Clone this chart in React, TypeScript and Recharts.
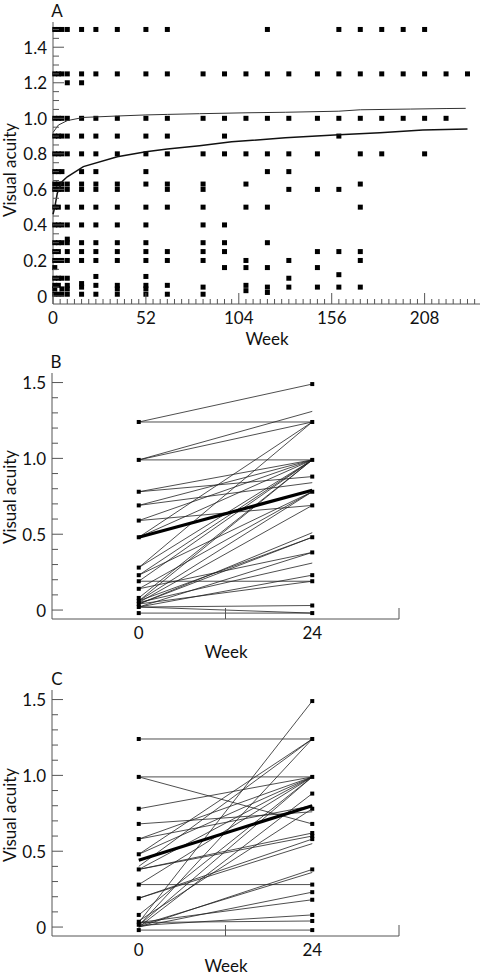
import React from "react";
import { ComposedChart, Scatter, XAxis, YAxis } from "recharts";

const FONT = "Lato, 'Open Sans', sans-serif";
const FS = 17;

// Panel A: visit weeks and the acuity values seen at each visit
const visitWeeks = [1, 3, 5, 8, 16, 24, 36, 52, 64, 84, 96, 108, 120, 132, 148, 160, 172, 184, 196, 208, 220, 232];
const visitValues: number[][] = [
  [1.5, 1.25, 1.0, 0.9, 0.8, 0.7, 0.63, 0.6, 0.5, 0.4, 0.3, 0.25, 0.2, 0.16, 0.1, 0.06, 0.04, 0.01],
  [1.5, 1.25, 1.0, 0.9, 0.8, 0.7, 0.63, 0.6, 0.5, 0.4, 0.3, 0.25, 0.2, 0.1, 0.06, 0.01],
  [1.5, 1.25, 1.0, 0.9, 0.8, 0.7, 0.63, 0.6, 0.4, 0.3, 0.2, 0.1, 0.04, 0.01],
  [1.5, 1.25, 1.2, 1.0, 0.9, 0.8, 0.63, 0.6, 0.5, 0.4, 0.32, 0.3, 0.25, 0.2, 0.1, 0.06, 0.04, 0.01],
  [1.5, 1.25, 1.2, 1.0, 0.9, 0.8, 0.7, 0.63, 0.6, 0.5, 0.4, 0.3, 0.25, 0.2, 0.07, 0.05, 0.01],
  [1.5, 1.25, 1.0, 0.9, 0.8, 0.7, 0.63, 0.6, 0.5, 0.4, 0.3, 0.25, 0.2, 0.11, 0.06, 0.01],
  [1.5, 1.25, 1.0, 0.9, 0.8, 0.63, 0.6, 0.5, 0.4, 0.3, 0.25, 0.2, 0.06, 0.04, 0.01],
  [1.5, 1.25, 1.0, 0.9, 0.8, 0.7, 0.63, 0.5, 0.4, 0.3, 0.25, 0.2, 0.11, 0.06, 0.04, 0.01],
  [1.5, 1.25, 1.0, 0.9, 0.8, 0.63, 0.6, 0.5, 0.25, 0.2, 0.06, 0.01],
  [1.25, 1.0, 0.8, 0.63, 0.6, 0.5, 0.4, 0.3, 0.25, 0.2, 0.05, 0.01],
  [1.25, 1.0, 0.9, 0.8, 0.4, 0.3, 0.25, 0.16],
  [1.25, 1.0, 0.8, 0.63, 0.5, 0.2, 0.16, 0.06, 0.03],
  [1.5, 1.25, 1.0, 0.8, 0.7, 0.5, 0.3, 0.16, 0.05, 0.02],
  [1.25, 1.0, 0.8, 0.7, 0.6, 0.2, 0.1, 0.05],
  [1.25, 1.0, 0.8, 0.6, 0.25, 0.16, 0.05],
  [1.5, 1.25, 1.0, 0.9, 0.6, 0.25, 0.12, 0.05],
  [1.5, 1.25, 1.0, 0.8, 0.63, 0.5, 0.25, 0.2, 0.05],
  [1.5, 1.25, 1.0, 0.8],
  [1.5, 1.25, 1.0],
  [1.5, 1.25, 1.0, 0.8],
  [1.25, 1.0],
  [1.25],
];

// fitted curves in panel A
const upperWeeks = [0, 1, 3, 8, 17, 36, 52, 64, 82, 108, 130, 160, 172, 200, 220, 231];
const upperVA = [0.92, 0.934, 0.962, 0.987, 1.005, 1.013, 1.019, 1.022, 1.026, 1.031, 1.034, 1.04, 1.048, 1.052, 1.055, 1.056];
const lowerWeeks = [0, 1, 2.4, 5, 8, 17, 36, 52, 64, 82, 100, 130, 160, 183, 207, 232];
const lowerVA = [0.46, 0.5, 0.578, 0.643, 0.671, 0.728, 0.784, 0.812, 0.827, 0.846, 0.868, 0.89, 0.908, 0.919, 0.934, 0.94];

// Panel B: week 0 -> week 24 per eye
const bStart = [1.24, 1.24, 0.99, 0.99, 0.99, 0.78, 0.78, 0.69, 0.69, 0.59, 0.59, 0.48, 0.48, 0.28, 0.23, 0.19, 0.19, 0.14, 0.08, 0.06, 0.06, 0.05, 0.04, 0.04, 0.06, 0.02, 0.05, 0.02, 0.04, 0.02, -0.02, 0.02, 0.14, 0.23, 0.28];
const bEnd = [1.49, 1.24, 1.31, 1.24, 0.99, 0.88, 0.99, 0.99, 0.84, 0.69, 0.99, 1.24, 0.99, 1.24, 0.99, 0.99, 0.19, 0.78, 0.99, 0.99, 0.78, 0.69, 0.51, 0.48, 0.48, 0.38, 0.31, 0.23, 0.19, 0.03, -0.02, -0.02, 0.38, 0.78, 0.99];
const bMean = [0.48, 0.79];
const bMarks0 = [1.24, 0.99, 0.78, 0.69, 0.59, 0.48, 0.28, 0.23, 0.19, 0.14, 0.08, 0.06, 0.04, 0.02, -0.02];
const bMarks24 = [1.49, 1.24, 0.99, 0.88, 0.78, 0.69, 0.48, 0.38, 0.23, 0.19, 0.03, -0.02];

// Panel C
const cStart = [1.24, 0.99, 0.99, 0.78, 0.68, 0.58, 0.58, 0.48, 0.48, 0.4, 0.38, 0.38, 0.38, 0.28, 0.28, 0.19, 0.19, 0.08, 0.03, 0.01, 0.01, 0.0, 0.0, 0.01, 0.0, 0.03, 0.01, 0.03, -0.02, 0.04];
const cEnd = [1.24, 0.99, 0.68, 0.99, 0.76, 0.99, 0.8, 1.24, 0.99, 1.24, 0.99, 0.62, 0.6, 0.28, 0.99, 0.58, 0.55, 0.99, 1.49, 1.24, 0.99, 0.88, 0.38, 0.36, 0.23, 0.18, 0.08, 0.04, -0.02, 0.78];
const cMean = [0.44, 0.8];
const cMarks0 = [1.24, 0.99, 0.78, 0.68, 0.58, 0.48, 0.38, 0.28, 0.19, 0.08, 0.035, 0.015, -0.02];
const cMarks24 = [1.49, 1.24, 0.99, 0.88, 0.78, 0.68, 0.62, 0.6, 0.58, 0.38, 0.28, 0.23, 0.18, 0.08, 0.04, -0.02];

const weekTicksA = Array.from({ length: 60 }, (_, i) => i * 4);
const vaTicksA = Array.from({ length: 31 }, (_, i) => Math.round(i * 5) / 100);
const vaTicksBC = Array.from({ length: 16 }, (_, i) => i / 10);
const weekTicksBC = [0, 12, 24, 36];

const isStep = (v: number, step: number) => Math.abs(v / step - Math.round(v / step)) < 1e-6;
const fmt = (v: number) => (Math.abs(v) < 1e-9 ? "0" : v.toFixed(1));

const square = (size: number) => (p: any) => (
  <rect x={p.cx - size / 2} y={p.cy - size / 2} width={size} height={size} fill="#000" />
);
const noDot = () => <g />;

const yTick = (step: number) => (p: any) => {
  const v = p.payload.value;
  const major = isStep(v, step);
  return (
    <g>
      <line x1={p.x} x2={p.x + (major ? 11 : 6)} y1={p.y} y2={p.y} stroke="#555" strokeWidth={1} />
      {major && (
        <text x={p.x - 6} y={p.y} textAnchor="end" dominantBaseline="central" fontFamily={FONT} fontSize={FS} fill="#111">
          {fmt(v)}
        </text>
      )}
    </g>
  );
};

const xTickA = (p: any) => {
  const v = p.payload.value;
  const major = v % 52 === 0;
  return (
    <g>
      <line x1={p.x} x2={p.x} y1={p.y} y2={p.y - (major ? 11 : 5)} stroke="#555" strokeWidth={1} />
      {major && (
        <text x={p.x} y={p.y + 13} textAnchor="middle" dominantBaseline="central" fontFamily={FONT} fontSize={FS} fill="#111">
          {v}
        </text>
      )}
    </g>
  );
};

const xTickBC = (p: any) => {
  const v = p.payload.value;
  if (v === 12 || v === 36) {
    return <line x1={p.x} x2={p.x} y1={p.y} y2={p.y - 11} stroke="#555" strokeWidth={1} />;
  }
  return (
    <text x={p.x} y={p.y + 13} textAnchor="middle" dominantBaseline="central" fontFamily={FONT} fontSize={FS} fill="#111">
      {v}
    </text>
  );
};

const txt: React.CSSProperties = {
  position: "absolute",
  fontFamily: FONT,
  fontSize: FS,
  lineHeight: 1,
  color: "#111",
  whiteSpace: "nowrap",
  transform: "translate(-50%, -50%)",
};
const vtxt: React.CSSProperties = { ...txt, transform: "translate(-50%, -50%) rotate(-90deg)" };

function PanelA() {
  const points = visitWeeks.flatMap((w, i) => visitValues[i].map((v) => ({ x: w, y: v })));
  const upper = upperWeeks.map((w, i) => ({ x: w, y: upperVA[i] }));
  const lower = lowerWeeks.map((w, i) => ({ x: w, y: lowerVA[i] }));
  return (
    <ComposedChart width={482} height={345} margin={{ top: 22, right: 2, left: 0, bottom: 0 }}>
      <XAxis
        type="number"
        dataKey="x"
        domain={[0, 239]}
        ticks={weekTicksA}
        interval={0}
        tickSize={0}
        tickMargin={0}
        tickLine={false}
        tick={xTickA}
        axisLine={{ stroke: "#555" }}
        height={41}
      />
      <YAxis
        type="number"
        dataKey="y"
        domain={[-0.045, 1.542]}
        ticks={vaTicksA}
        interval={0}
        tickSize={0}
        tickMargin={0}
        tickLine={false}
        tick={yTick(0.2)}
        axisLine={{ stroke: "#555" }}
        width={53}
      />
      <Scatter data={points} shape={square(5)} isAnimationActive={false} />
      <Scatter data={upper} shape={noDot} line={{ stroke: "#333", strokeWidth: 1, fill: "none" }} isAnimationActive={false} />
      <Scatter data={lower} shape={noDot} line={{ stroke: "#111", strokeWidth: 1.5, fill: "none" }} isAnimationActive={false} />
    </ComposedChart>
  );
}

function PairPanel({ start, end, mean, marks0, marks24 }: { start: number[]; end: number[]; mean: number[]; marks0: number[]; marks24: number[] }) {
  const markers = [...marks0.map((v) => ({ x: 0, y: v })), ...marks24.map((v) => ({ x: 24, y: v }))];
  return (
    <ComposedChart width={482} height={320} margin={{ top: 33, right: 83, left: 0, bottom: 0 }}>
      <XAxis
        type="number"
        dataKey="x"
        domain={[-12, 36]}
        ticks={weekTicksBC}
        interval={0}
        tickSize={0}
        tickMargin={0}
        tickLine={false}
        tick={xTickBC}
        axisLine={{ stroke: "#555" }}
        height={41}
      />
      <YAxis
        type="number"
        dataKey="y"
        domain={[-0.059, 1.563]}
        ticks={vaTicksBC}
        interval={0}
        tickSize={0}
        tickMargin={0}
        tickLine={false}
        tick={yTick(0.5)}
        axisLine={{ stroke: "#555" }}
        width={52}
      />
      {start.map((s, i) => (
        <Scatter
          key={i}
          data={[{ x: 0, y: s }, { x: 24, y: end[i] }]}
          shape={noDot}
          line={{ stroke: "#222", strokeWidth: 0.8, fill: "none" }}
          isAnimationActive={false}
        />
      ))}
      <Scatter
        data={[{ x: 0, y: mean[0] }, { x: 24, y: mean[1] }]}
        shape={noDot}
        line={{ stroke: "#000", strokeWidth: 3.2, fill: "none" }}
        isAnimationActive={false}
      />
      <Scatter data={markers} shape={square(4)} isAnimationActive={false} />
    </ComposedChart>
  );
}

export default function App() {
  return (
    <div style={{ position: "absolute", left: 0, top: 0, width: 482, height: 976, background: "#fff", overflow: "hidden" }}>
      <div style={{ position: "absolute", left: 0, top: 0 }}>
        <PanelA />
      </div>
      <div style={{ position: "absolute", left: 0, top: 340 }}>
        <PairPanel start={bStart} end={bEnd} mean={bMean} marks0={bMarks0} marks24={bMarks24} />
      </div>
      <div style={{ position: "absolute", left: 0, top: 657 }}>
        <PairPanel start={cStart} end={cEnd} mean={cMean} marks0={cMarks0} marks24={cMarks24} />
      </div>
      <div style={{ ...txt, left: 57, top: 10 }}>A</div>
      <div style={{ ...txt, left: 56, top: 361 }}>B</div>
      <div style={{ ...txt, left: 57, top: 678 }}>C</div>
      <div style={{ ...txt, left: 267, top: 338 }}>Week</div>
      <div style={{ ...txt, left: 226, top: 651 }}>Week</div>
      <div style={{ ...txt, left: 226, top: 965 }}>Week</div>
      <div style={{ ...vtxt, left: 9, top: 170 }}>Visual acuity</div>
      <div style={{ ...vtxt, left: 9, top: 497 }}>Visual acuity</div>
      <div style={{ ...vtxt, left: 9, top: 815 }}>Visual acuity</div>
    </div>
  );
}
